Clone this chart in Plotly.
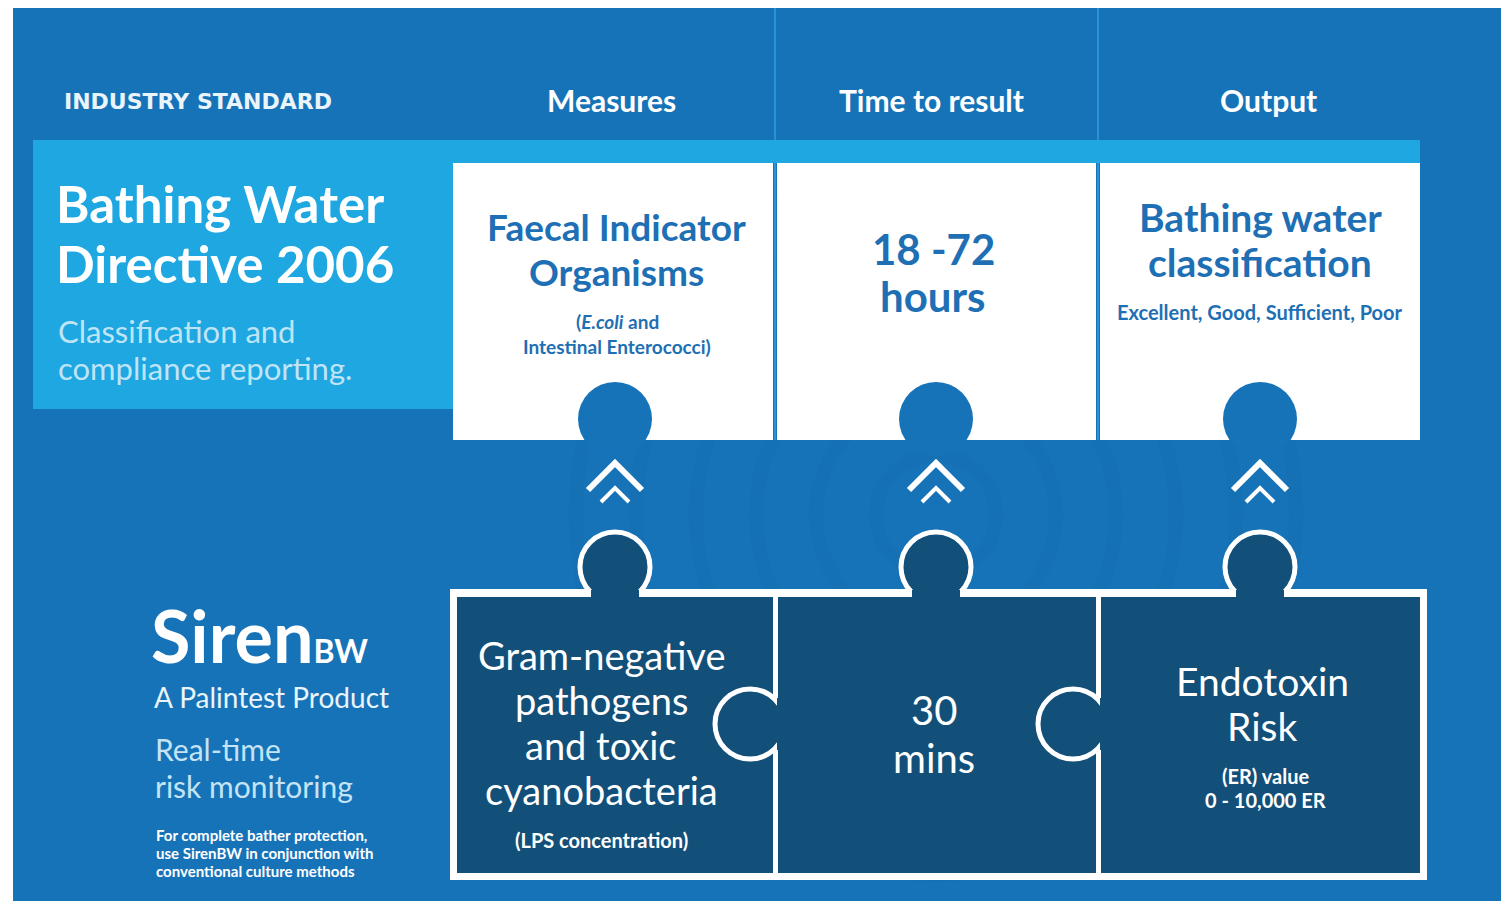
import plotly.graph_objects as go

# ---------------- data (texts) ----------------
header_left = "INDUSTRY STANDARD"
column_headers = ["Measures", "Time to result", "Output"]

standard_title = ["Bathing Water", "Directive 2006"]
standard_sub = ["Classification and", "compliance reporting."]

standard_main = [["Faecal Indicator", "Organisms"], ["18 -72", "hours"], ["Bathing water", "classification"]]
standard_note = [["(<i>E.coli</i> and", "Intestinal Enterococci)"], [], ["Excellent, Good, Sufficient, Poor"]]

siren_main = [["Gram-negative", "pathogens", "and toxic", "cyanobacteria"], ["30", "mins"], ["Endotoxin", "Risk"]]
siren_note = [["(LPS concentration)"], [], ["(ER) value", "0 - 10,000 ER"]]

brand = "Siren"
brand_sub = "BW"
brand_tag = "A Palintest Product"
brand_claim = ["Real-time", "risk monitoring"]
brand_small = ["For complete bather protection,", "use SirenBW in conjunction with", "conventional culture methods"]

# ---------------- styling / layout ----------------
BG = "#1773b8"
LIGHT = "#1ea7e1"
NAVY = "#124f79"
TEXTBLUE = "#1e6fb4"
FONT = "Lato"

W, H = 1509, 909
OFF = 8  # page body margin
col_x = [(453, 773), (777, 1096), (1100, 1420)]
col_c = [615, 936, 1260]

shapes = []

def rect(x0, y0, x1, y1, fill, line=None, lw=0):
    shapes.append(dict(type="rect", xref="x", yref="y", x0=x0, y0=y0, x1=x1, y1=y1,
                       fillcolor=fill, line=dict(width=lw, color=line or fill), layer="above"))

def circ(cx, cy, r, fill, line=None, lw=0):
    shapes.append(dict(type="circle", xref="x", yref="y", x0=cx - r, y0=cy - r, x1=cx + r, y1=cy + r,
                       fillcolor=fill, line=dict(width=lw, color=line or fill), layer="above"))

# background panel
rect(13, 3, 1502, 907, BG)
# faint concentric rings
for r in [60, 120, 180, 240, 300, 360]:
    shapes.append(dict(type="circle", xref="x", yref="y", x0=936 - r, y0=515 - r, x1=936 + r, y1=515 + r,
                       fillcolor="rgba(0,0,0,0)", line=dict(width=14, color="rgba(10,50,110,0.04)"), layer="above"))

# header dividers
for xd in [775, 1098]:
    shapes.append(dict(type="line", xref="x", yref="y", x0=xd, y0=3, x1=xd, y1=440,
                       line=dict(width=2, color="#2a92d6"), layer="above"))

# light band + left box
rect(33, 140, 453, 409, LIGHT)
rect(453, 140, 1420, 163, LIGHT)
# white boxes
for (a, b) in col_x:
    rect(a, 163, b, 440, "white")
# blue knobs cut into white boxes
for cx in col_c:
    circ(cx, 419, 37, BG)

# chevrons
for cx in col_c:
    shapes.append(dict(type="path", xref="x", yref="y",
                       path=f"M {cx-27},{490} L {cx},{463} L {cx+27},{490}",
                       line=dict(width=6, color="white"), layer="above"))
    shapes.append(dict(type="path", xref="x", yref="y",
                       path=f"M {cx-14},{502} L {cx},{488} L {cx+14},{502}",
                       line=dict(width=4, color="white"), layer="above"))

# bottom puzzle pieces
rect(450, 589, 1427, 880, "white")
piece_x = [(457, 773), (778, 1096), (1101, 1420)]
for (a, b) in piece_x:
    rect(a, 597, b, 873, NAVY)
# top knobs
for cx in col_c:
    circ(cx, 567, 35, NAVY, "white", 5)
    rect(cx - 24, 590, cx + 24, 610, NAVY)
# side knobs (belong to right piece, protrude left)
for (ex, nx) in [(750, 778), (1073, 1101)]:
    circ(ex, 724, 35, NAVY, "white", 5)
    rect(nx - 1, 698, nx + 14, 750, NAVY)

annotations = []

def text(x, y, s, size, color="white", bold=True, anchor="center", family=FONT):
    annotations.append(dict(x=x, y=y, xref="x", yref="y", text=s, showarrow=False,
                            xanchor=anchor, yanchor="middle",
                            font=dict(family=family, size=size, color=color,
                                      weight="bold" if bold else "normal")))

# headers
text(62, 101, header_left, 22, "#eaf4fb", True, "left", "DejaVu Sans")
for cx, h in zip([611, 931, 1268], column_headers):
    text(cx, 100, h, 30, "white", True)

# left standard box
for i, s in enumerate(standard_title):
    text(54, 203 + i * 60, s, 51, "white", True, "left")
for i, s in enumerate(standard_sub):
    text(56, 331 + i * 37, s, 31, "#bfe4f6", False, "left")

# white box texts
main_cfg = [(616, 226, 45, 37), (933, 249, 47, 42), (1260, 217, 45, 39)]
note_cfg = [(617, 321, 25, 19), (931, 0, 0, 19), (1260, 312, 24, 20)]
for k in range(3):
    cx, y0, dy, fs = main_cfg[k]
    for i, s in enumerate(standard_main[k]):
        text(cx, y0 + i * dy, s, fs, TEXTBLUE, True)
    cx, y0, dy, fs = note_cfg[k]
    for i, s in enumerate(standard_note[k]):
        text(cx, y0 + i * dy, s, fs, TEXTBLUE, True)

# bottom piece texts
smain_cfg = [(601, 655, 45, 38), (934, 710, 48, 40), (1262, 681, 45, 39)]
snote_cfg = [(601, 840, 24, 20), (933, 0, 0, 20), (1265, 776, 24, 20)]
for k in range(3):
    cx, y0, dy, fs = smain_cfg[k]
    for i, s in enumerate(siren_main[k]):
        text(cx, y0 + i * dy, s, fs, "white", False)
    cx, y0, dy, fs = snote_cfg[k]
    for i, s in enumerate(siren_note[k]):
        text(cx, y0 + i * dy, s, fs, "white", True)

# brand block
text(149, 635, f"{brand}<span style='font-size:32px'>{brand_sub}</span>", 72, "white", True, "left")
text(152, 697, brand_tag, 28, "#eaf4fb", False, "left")
for i, s in enumerate(brand_claim):
    text(153, 749 + i * 37, s, 30, "#c4e4f6", False, "left")
for i, s in enumerate(brand_small):
    text(154, 835 + i * 18, s, 15, "white", True, "left")

fig = go.Figure()
fig.update_layout(
    width=W - 2 * OFF, height=H - 2 * OFF, margin=dict(l=0, r=0, t=0, b=0),
    paper_bgcolor="white", plot_bgcolor="white",
    xaxis=dict(range=[OFF, W - OFF], visible=False, fixedrange=True),
    yaxis=dict(range=[H - OFF, OFF], visible=False, fixedrange=True),
    shapes=shapes, annotations=annotations, showlegend=False,
)
fig.write_html("out.html")
